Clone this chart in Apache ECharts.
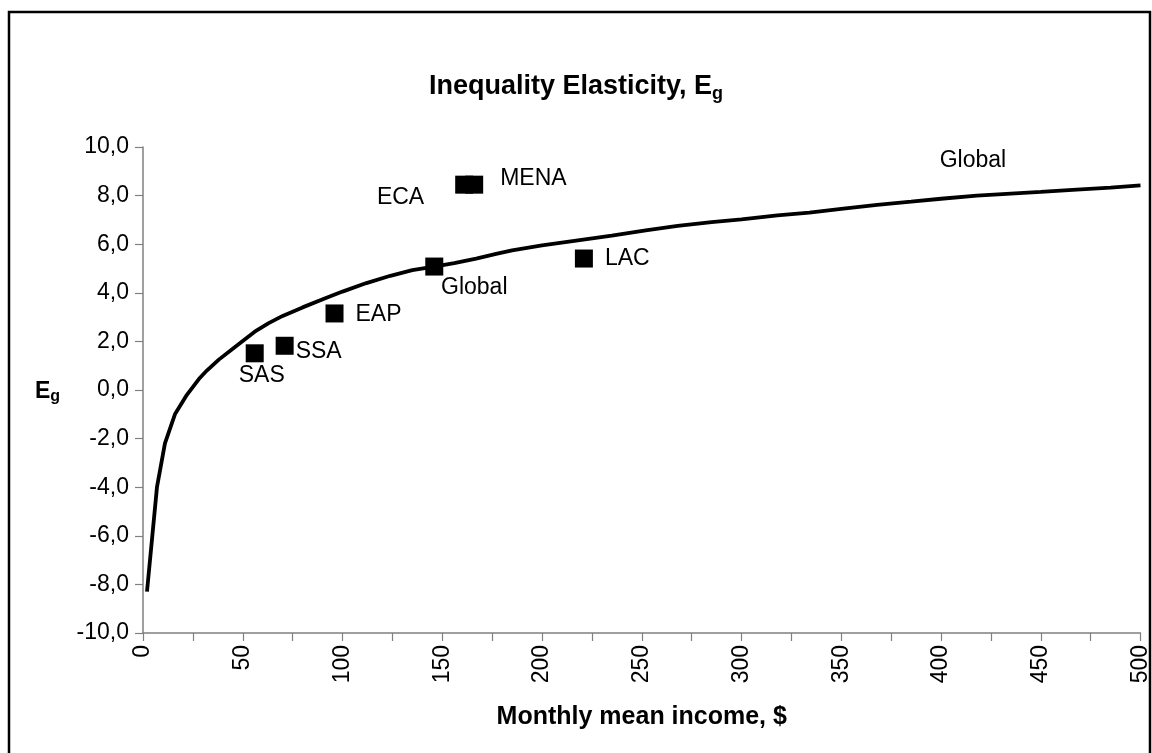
<!DOCTYPE html>
<html>
<head>
<meta charset="utf-8">
<script src="https://cdn.jsdelivr.net/npm/echarts@6/dist/echarts.min.js"></script>
<style>
html,body{margin:0;padding:0;background:#fff;}
#chart{width:1152px;height:753px;}
</style>
</head>
<body>
<div id="chart"></div>
<script>
// Curve: Global inequality elasticity vs monthly mean income
const curveX = [2, 7, 11, 16, 22, 28, 32, 38, 45, 50, 56, 63, 70, 80, 92, 100, 112, 124, 135, 146, 156, 167, 177, 185, 200, 218, 235, 252, 268, 285, 300, 318, 334, 350, 368, 385, 400, 418, 435, 450, 468, 485, 500];
const curveY = [-8.3, -4.0, -2.2, -1.0, -0.2, 0.45, 0.8, 1.25, 1.7, 2.02, 2.4, 2.75, 3.05, 3.4, 3.8, 4.05, 4.4, 4.7, 4.93, 5.08, 5.22, 5.41, 5.6, 5.75, 5.95, 6.16, 6.35, 6.57, 6.75, 6.91, 7.02, 7.19, 7.3, 7.45, 7.62, 7.75, 7.87, 8.0, 8.08, 8.15, 8.25, 8.33, 8.42];

// Regional points
const regionNames = ['SAS', 'SSA', 'EAP', 'Global', 'ECA', 'MENA', 'LAC'];
const regionX = [56, 71, 96, 146, 161, 166, 221];
const regionY = [1.51, 1.82, 3.15, 5.08, 8.45, 8.45, 5.41];

// Curve annotation
const annotationText = ['Global'];
const annotationX = [416];
const annotationY = [9.45];

// Axis ranges / ticks
const xMin = 0, xMax = 500, xStep = 50;
const yMin = -10, yMax = 10, yStep = 2;

const FONT = "'Liberation Sans', Arial, sans-serif";

// Label placement (style only)
const labelStyle = {
  SAS:    { position: 'bottom', distance: 2, offset: [7, 0] },
  SSA:    { position: 'right', distance: 2, offset: [0, 6] },
  EAP:    { position: 'right', distance: 12, offset: [0, 1] },
  Global: { position: 'bottom', distance: 1, offset: [40, 0] },
  ECA:    { position: 'left', distance: 31, offset: [0, 13] },
  MENA:   { position: 'right', distance: 17, offset: [0, -6] },
  LAC:    { position: 'right', distance: 12, offset: [0, 0] }
};

const regionData = regionNames.map((n, i) => ({
  name: n,
  value: [regionX[i], regionY[i]],
  label: Object.assign({ show: true, formatter: n }, labelStyle[n])
}));

const chart = echarts.init(document.getElementById('chart'));
chart.setOption({
  animation: false,
  backgroundColor: '#fff',
  title: {
    text: '{a|Inequality Elasticity, E}{b|g}',
    left: 'center',
    top: 66,
    textStyle: {
      rich: {
        a: { fontFamily: FONT, fontWeight: 'bold', fontSize: 27, color: '#000' },
        b: { fontFamily: FONT, fontWeight: 'bold', fontSize: 18, color: '#000', padding: [14, 0, 0, 0] }
      }
    }
  },
  graphic: [
    {
      type: 'rect',
      shape: { x: 9, y: 12, width: 1141, height: 760 },
      style: { fill: 'none', stroke: '#000', lineWidth: 2.5 },
      silent: true
    },
    {
      type: 'text',
      left: 35,
      top: 380,
      style: {
        text: '{a|E}{b|g}',
        rich: {
          a: { fontFamily: FONT, fontWeight: 'bold', fontSize: 23, fill: '#000' },
          b: { fontFamily: FONT, fontWeight: 'bold', fontSize: 16, fill: '#000', padding: [10, 0, 0, 0] }
        }
      }
    }
  ],
  grid: { left: 143, right: 9, top: 147, bottom: 120, containLabel: false },
  xAxis: {
    type: 'value',
    min: xMin, max: xMax, interval: xStep,
    name: 'Monthly mean income, $',
    nameLocation: 'middle',
    nameGap: 72,
    nameTextStyle: { fontFamily: FONT, fontWeight: 'bold', fontSize: 25, color: '#000' },
    axisLine: { show: true, onZero: false, lineStyle: { color: '#808080', width: 1.5 } },
    axisTick: { show: true, inside: false, length: 8, lineStyle: { color: '#808080', width: 1.2 } },
    minorTick: { show: true, splitNumber: 2, length: 8, lineStyle: { color: '#808080', width: 1.2 } },
    splitLine: { show: false },
    axisLabel: { rotate: 90, margin: 12, fontFamily: FONT, fontSize: 23, color: '#000' }
  },
  yAxis: {
    type: 'value',
    min: yMin, max: yMax, interval: yStep,
    axisLine: { show: true, lineStyle: { color: '#808080', width: 1.5 } },
    axisTick: { show: true, inside: false, length: 8, lineStyle: { color: '#808080', width: 1.2 } },
    splitLine: { show: false },
    axisLabel: {
      margin: 14, fontFamily: FONT, fontSize: 23, color: '#000',
      formatter: v => v.toFixed(1).replace('.', ',')
    }
  },
  series: [
    {
      type: 'line',
      name: 'Global curve',
      data: curveX.map((x, i) => [x, curveY[i]]),
      showSymbol: false,
      symbol: 'none',
      smooth: false,
      lineStyle: { color: '#000', width: 3.8, opacity: 1 },
      z: 2
    },
    {
      type: 'scatter',
      name: 'Regions',
      data: regionData,
      symbol: 'rect',
      symbolSize: 18,
      itemStyle: { color: '#000', opacity: 1 },
      label: { fontFamily: FONT, fontSize: 23, color: '#000', opacity: 1 },
      emphasis: { disabled: true },
      z: 3
    },
    {
      type: 'scatter',
      name: 'Annotation',
      data: annotationText.map((t, i) => ({ value: [annotationX[i], annotationY[i]], label: { formatter: t } })),
      symbolSize: 0,
      itemStyle: { opacity: 1 },
      label: { show: true, position: 'inside', fontFamily: FONT, fontSize: 23, color: '#000', opacity: 1 },
      emphasis: { disabled: true },
      z: 3
    }
  ]
});
</script>
</body>
</html>
